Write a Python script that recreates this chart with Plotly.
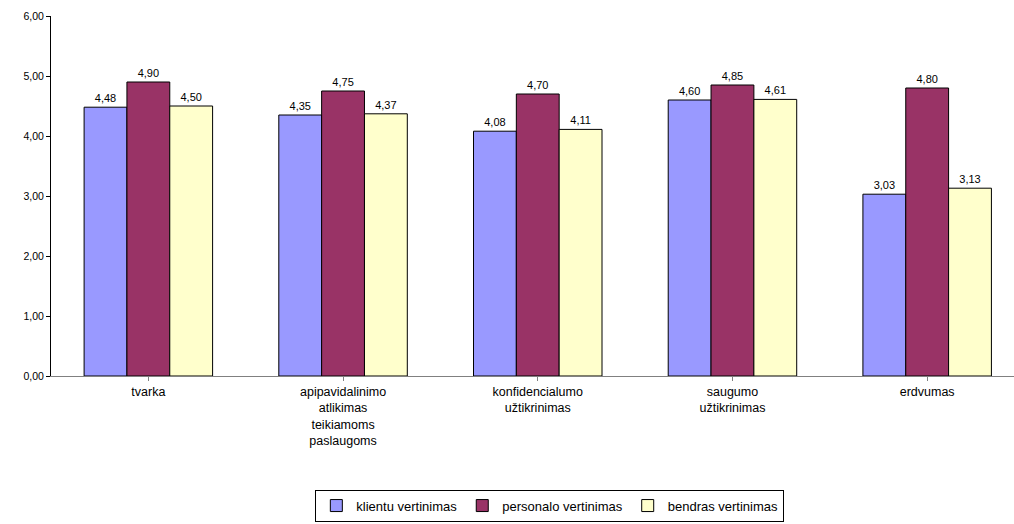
import plotly.graph_objects as go

categories = ["tvarka", "apipavidalinimo<br>atlikimas<br>teikiamoms<br>paslaugoms",
              "konfidencialumo<br>užtikrinimas", "saugumo<br>užtikrinimas", "erdvumas"]
klientu = [4.48, 4.35, 4.08, 4.60, 3.03]
personalo = [4.90, 4.75, 4.70, 4.85, 4.80]
bendras = [4.50, 4.37, 4.11, 4.61, 3.13]
series_names = ["klientu vertinimas", "personalo vertinimas", "bendras vertinimas"]
colors = ["#9999FF", "#993366", "#FFFFCC"]
y_ticks = [0, 1, 2, 3, 4, 5, 6]

x = list(range(len(categories)))
fig = go.Figure()
for name, vals, col in zip(series_names, [klientu, personalo, bendras], colors):
    fig.add_trace(go.Bar(
        x=x, y=vals, name=name,
        marker=dict(color=col, line=dict(color="#000000", width=1)),
        text=vals, texttemplate="%{y:.2f}", textposition="outside",
        textfont=dict(family="Liberation Sans, Arial", size=11, color="#000000"),
        cliponaxis=False,
    ))

fig.update_layout(
    width=1014, height=524,
    margin=dict(l=51, r=0, t=16, b=148),
    paper_bgcolor="white", plot_bgcolor="white",
    separators=", ",
    barmode="group", bargap=0.34, bargroupgap=0,
    font=dict(family="Liberation Sans, Arial", size=11, color="#000000"),
    showlegend=True,
    legend=dict(orientation="h", x=0.518, xanchor="center", y=-0.36, yanchor="middle",
                bordercolor="#000000", borderwidth=1, font=dict(size=13),
                itemwidth=30, tracegroupgap=0),
    xaxis=dict(tickmode="array", tickvals=x, ticktext=categories,
               range=[-0.5, 4.446], showline=True, linecolor="#808080", linewidth=1,
               ticks="outside", tickson="boundaries", ticklen=4, tickcolor="#808080",
               showgrid=False, zeroline=False, tickfont=dict(size=12.5), fixedrange=True),
    yaxis=dict(range=[0, 6], tickvals=y_ticks, tickformat=".2f",
               showline=True, linecolor="#000000", linewidth=1,
               ticks="outside", ticklen=4, tickcolor="#000000",
               showgrid=False, zeroline=False, tickfont=dict(size=10.5)),
)

fig.write_html("out.html")
